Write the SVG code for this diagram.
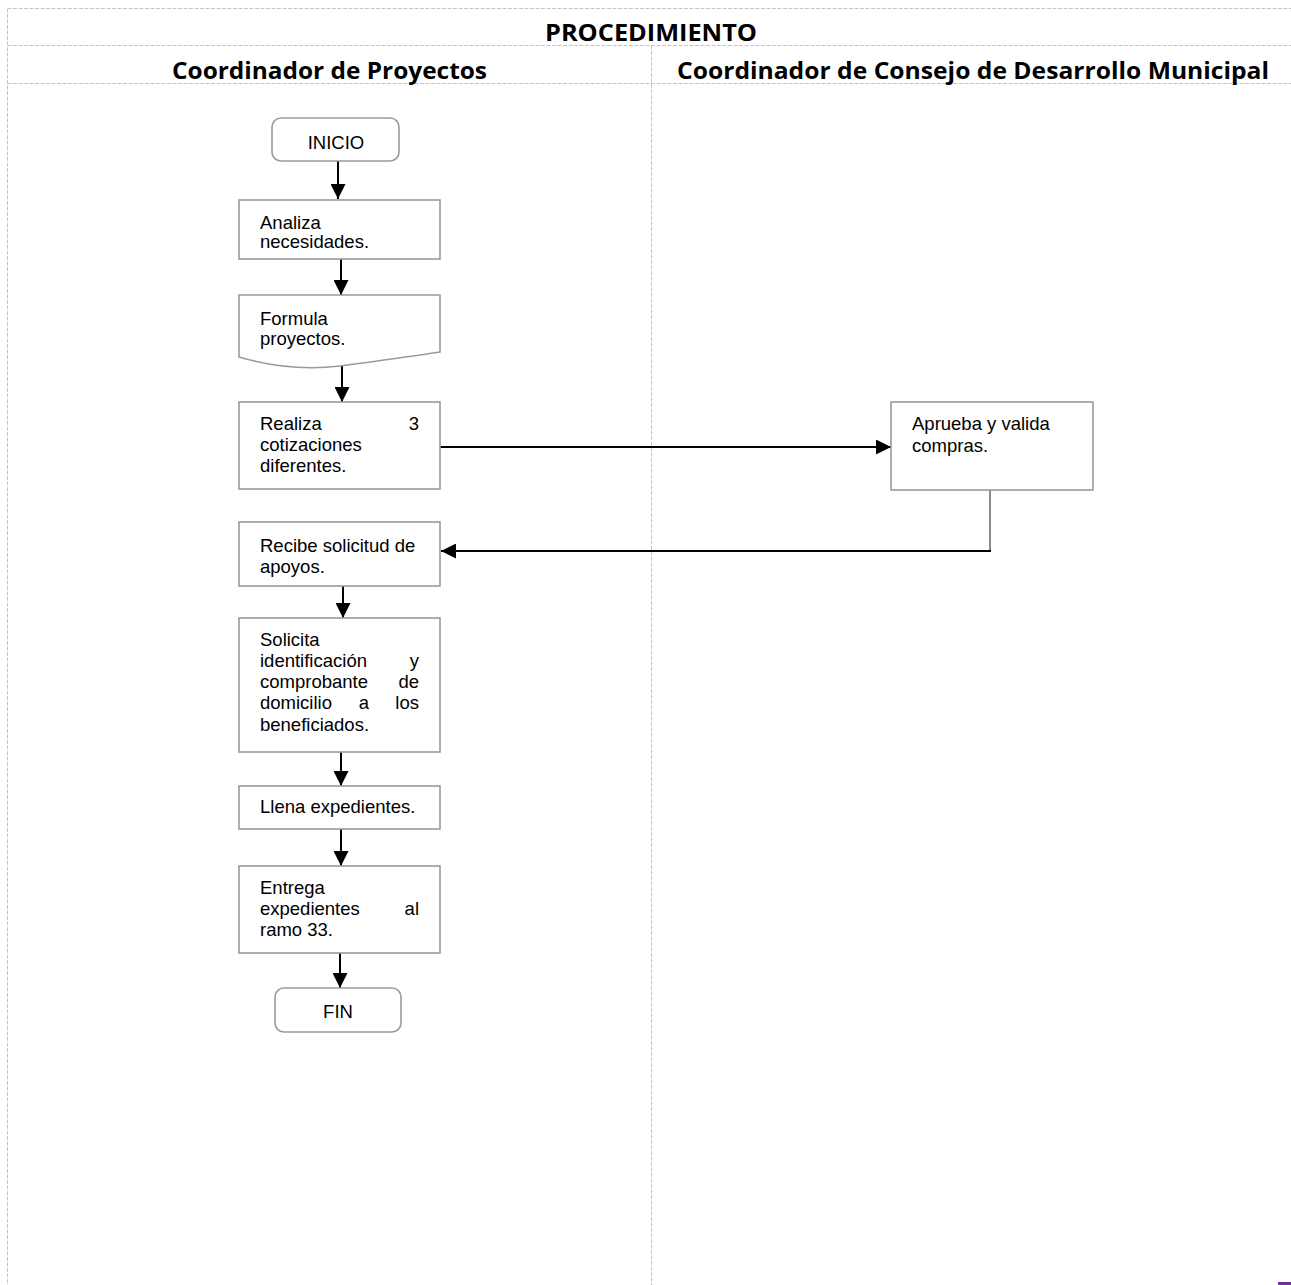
<svg xmlns="http://www.w3.org/2000/svg" width="1291" height="1285" viewBox="0 0 1291 1285">
<style>
.grid{stroke:#c4c4c4;stroke-width:1;stroke-dasharray:4 1.5;fill:none}
.hdr{font-family:"Open Sans","Liberation Sans",sans-serif;font-weight:bold;font-size:23px;fill:#000}
.box{fill:#fff;stroke:#9a9a9a;stroke-width:1.6}
.t{font-family:"Liberation Sans",Arial,sans-serif;font-size:18.5px;fill:#000}
.c{stroke:#000;stroke-width:2;fill:none}
</style>
<defs>
<marker id="ah" viewBox="0 0 10 10" refX="10" refY="5" markerWidth="7.5" markerHeight="7.5" markerUnits="strokeWidth" orient="auto">
<path d="M0,0 L10,5 L0,10 Z" fill="#000"/>
</marker>
</defs>
<rect width="1291" height="1285" fill="#fff"/>
<g id="grid">
<line class="grid" x1="7.5" y1="8.5" x2="1291" y2="8.5"/>
<line class="grid" x1="7.5" y1="45.5" x2="1291" y2="45.5"/>
<line class="grid" x1="7.5" y1="83.5" x2="1291" y2="83.5"/>
<line class="grid" x1="7.5" y1="8.5" x2="7.5" y2="1285"/>
<line class="grid" x1="651.5" y1="45.5" x2="651.5" y2="1285"/>
</g>
<g id="headers">
<text class="hdr" x="545" y="41" textLength="212" lengthAdjust="spacingAndGlyphs">PROCEDIMIENTO</text>
<text class="hdr" x="172" y="79" textLength="315" lengthAdjust="spacingAndGlyphs">Coordinador de Proyectos</text>
<text class="hdr" x="677" y="79" textLength="592" lengthAdjust="spacingAndGlyphs">Coordinador de Consejo de Desarrollo Municipal</text>
</g>
<g id="connectors">
<line class="c" x1="338" y1="161" x2="338" y2="199" marker-end="url(#ah)"/>
<line class="c" x1="341" y1="259" x2="341" y2="295" marker-end="url(#ah)"/>
<line class="c" x1="342" y1="366" x2="342" y2="402" marker-end="url(#ah)"/>
<line class="c" x1="440" y1="447" x2="891" y2="447" marker-end="url(#ah)"/>
<line x1="990" y1="487" x2="990" y2="551" stroke="#8a8a8a" stroke-width="2"/>
<line class="c" x1="991" y1="551" x2="441" y2="551" marker-end="url(#ah)"/>
<line class="c" x1="343" y1="586" x2="343" y2="618" marker-end="url(#ah)"/>
<line class="c" x1="341" y1="752" x2="341" y2="786" marker-end="url(#ah)"/>
<line class="c" x1="341" y1="829" x2="341" y2="866" marker-end="url(#ah)"/>
<line class="c" x1="340" y1="953" x2="340" y2="988" marker-end="url(#ah)"/>
</g>
<g id="inicio">
<rect class="box" x="272" y="118" width="127" height="43" rx="9"/>
<text class="t" x="336" y="149" text-anchor="middle">INICIO</text>
</g>
<g id="analiza">
<rect class="box" x="239" y="200" width="201" height="59"/>
<text class="t" x="260" y="229">Analiza</text>
<text class="t" x="260" y="248">necesidades.</text>
</g>
<g id="formula">
<path class="box" d="M239,295 H440 V352 Q400,358 340,366 Q290,372 239,357 Z"/>
<text class="t" x="260" y="325">Formula</text>
<text class="t" x="260" y="345">proyectos.</text>
</g>
<g id="realiza">
<rect class="box" x="239" y="402" width="201" height="87"/>
<text class="t" x="260" y="430">Realiza</text>
<text class="t" x="419" y="430" text-anchor="end">3</text>
<text class="t" x="260" y="451">cotizaciones</text>
<text class="t" x="260" y="472">diferentes.</text>
</g>
<g id="aprueba">
<rect class="box" x="891" y="402" width="202" height="88"/>
<text class="t" x="912" y="430">Aprueba y valida</text>
<text class="t" x="912" y="452">compras.</text>
</g>
<g id="recibe">
<rect class="box" x="239" y="522" width="201" height="64"/>
<text class="t" x="260" y="552">Recibe solicitud de</text>
<text class="t" x="260" y="573">apoyos.</text>
</g>
<g id="solicita">
<rect class="box" x="239" y="618" width="201" height="134"/>
<text class="t" x="260" y="646">Solicita</text>
<text class="t" x="260" y="667">identificación</text>
<text class="t" x="419" y="667" text-anchor="end">y</text>
<text class="t" x="260" y="688">comprobante</text>
<text class="t" x="419" y="688" text-anchor="end">de</text>
<text class="t" x="260" y="709">domicilio</text>
<text class="t" x="364" y="709" text-anchor="middle">a</text>
<text class="t" x="419" y="709" text-anchor="end">los</text>
<text class="t" x="260" y="731">beneficiados.</text>
</g>
<g id="llena">
<rect class="box" x="239" y="786" width="201" height="43"/>
<text class="t" x="260" y="813">Llena expedientes.</text>
</g>
<g id="entrega">
<rect class="box" x="239" y="866" width="201" height="87"/>
<text class="t" x="260" y="894">Entrega</text>
<text class="t" x="260" y="915">expedientes</text>
<text class="t" x="419" y="915" text-anchor="end">al</text>
<text class="t" x="260" y="936">ramo 33.</text>
</g>
<g id="fin">
<rect class="box" x="275" y="988" width="126" height="44" rx="9"/>
<text class="t" x="338" y="1018" text-anchor="middle">FIN</text>
</g>
<rect x="1278" y="1282" width="13" height="3" fill="#7030a0"/>
</svg>
